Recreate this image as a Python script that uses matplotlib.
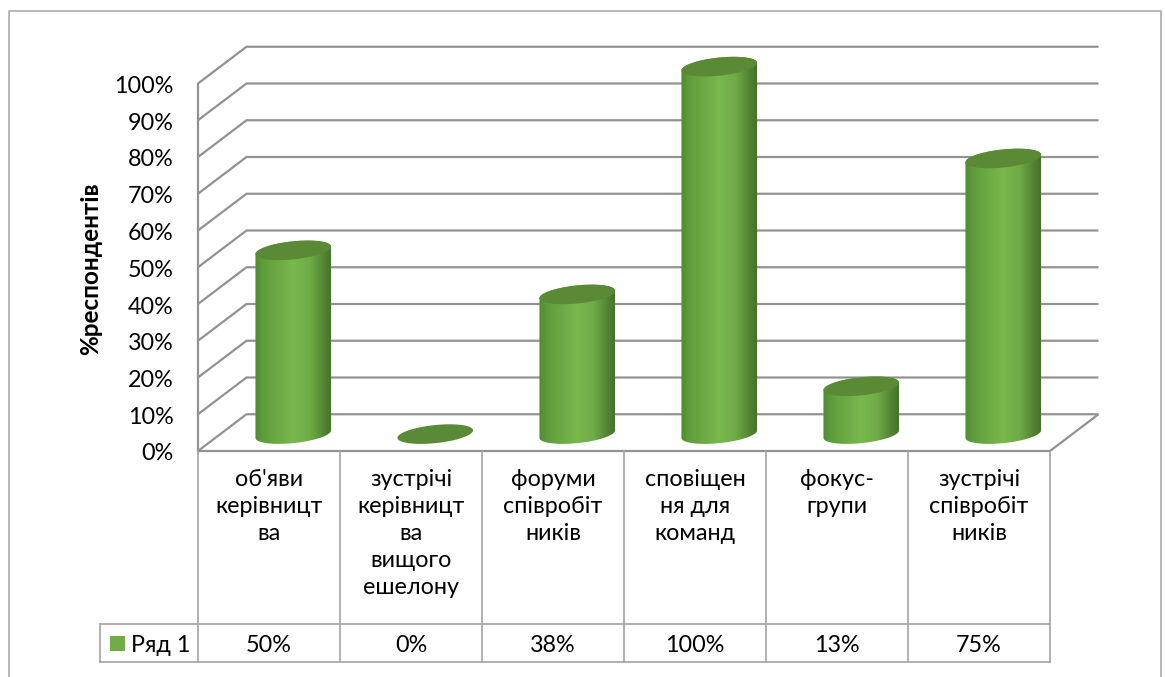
import numpy as np
import matplotlib
matplotlib.use('Agg')
import matplotlib.pyplot as plt
from matplotlib.colors import LinearSegmentedColormap
from matplotlib.patches import Polygon, Rectangle

plt.rcParams['font.family'] = ['Lato', 'Open Sans', 'DejaVu Sans']

categories = ["об'яви\nкерівницт\nва", "зустрічі\nкерівницт\nва\nвищого\nешелону", "форуми\nспівробіт\nників",
              "сповіщен\nня для\nкоманд", "фокус-\nгрупи", "зустрічі\nспівробіт\nників"]
values = [50, 0, 38, 100, 13, 75]
y_ticks = list(range(0, 101, 10))
series_name = 'Ряд 1'

W, H = 1165, 677
fig = plt.figure(figsize=(W / 100, H / 100), dpi=100)
ax = fig.add_axes([198 / W, (H - 451) / H, 852 / W, 367.5 / H])
ax.set_xlim(0, 6)
ax.set_ylim(0, 100)
ax.axis('off')

# pixels per data unit, needed to keep the ellipses round on screen
px_x = 852 / 6
px_y = 367.5 / 100
depth_x = 48.5 / px_x
depth_y = 10
grid_col = '#929292'
line_col = '#a3a3a3'
txt_size = 16.8

# outer frame, open at the bottom
fig.add_artist(plt.Line2D([9 / W, 9 / W, 1161 / W, 1161 / W], [0, 1 - 11 / H, 1 - 11 / H, 0],
                          color='#ababab', lw=1.2))

# walls
for v in y_ticks:
    ax.plot([0, depth_x, 6 + depth_x], [v, v + depth_y, v + depth_y], color=grid_col, lw=1.6,
            clip_on=False, solid_joinstyle='miter', solid_capstyle='butt', zorder=1)
ax.plot([0, 0], [0, 100], color=grid_col, lw=1.6, clip_on=False, zorder=1)
ax.plot([0, 6, 6 + depth_x], [0, 0, depth_y], color=grid_col, lw=1.6, clip_on=False,
        solid_capstyle='butt', zorder=1)


def ellipse_pts(cx, cy, t):
    # tilted ellipse, rising to the right
    a, b, th = 38, 9, np.radians(6)
    dx = a * np.cos(t) * np.cos(th) - b * np.sin(t) * np.sin(th)
    dy = a * np.cos(t) * np.sin(th) + b * np.sin(t) * np.cos(th)
    return np.column_stack([cx + dx / px_x, cy + dy / px_y])


cyl_cmap = LinearSegmentedColormap.from_list('cyl', [(0, '#4f8a30'), (0.1, '#5f9c3b'), (0.5, '#78b84d'),
                                                      (0.72, '#70ab46'), (0.92, '#4f8030'), (1, '#47722b')])
grad = np.linspace(0, 1, 256).reshape(1, -1)
half_w = 38 / px_x

for i, v in enumerate(values):
    cx = i + 0.5 + depth_x / 2
    cy = depth_y / 2 - 0.4
    if v > 0:
        # side of the cylinder: front half of the bottom ellipse, then up to the top
        low = ellipse_pts(cx, cy, np.linspace(np.pi, 2 * np.pi, 60))
        up = ellipse_pts(cx, cy + v, np.linspace(0, np.pi, 60))
        side = Polygon(np.vstack([low, up]), closed=True, transform=ax.transData, fc='none', ec='none')
        ax.add_patch(side)
        im = ax.imshow(grad, extent=[cx - half_w, cx + half_w, cy - 5, cy + v + 5], cmap=cyl_cmap,
                       aspect='auto', zorder=3)
        im.set_clip_box(fig.bbox)
        im.set_clip_path(side)
    top = ellipse_pts(cx, cy + v, np.linspace(0, 2 * np.pi, 120))
    ax.add_patch(Polygon(top, closed=True, fc='#5a8a35', ec='none', zorder=4, clip_on=False))

ax.set_xlim(0, 6)
ax.set_ylim(0, 100)

# axis text
text_shift = -3 / px_y
for v in y_ticks:
    ax.text(-24 / px_x, v + text_shift, f'{v}%', ha='right', va='center', fontsize=txt_size, color='black',
            clip_on=False)
ax.text(-107 / px_x, 49.5, '%респондентів', rotation=90, ha='center', va='center', fontsize=17.5,
        fontweight='bold', color='black')

# data table under the chart
table_mid = -173 / px_y
table_low = -211 / px_y
for k in range(7):
    ax.plot([k, k], [0, table_low], color=line_col, lw=1.2, clip_on=False, zorder=1)
legend_x = -98 / px_x
ax.plot([legend_x, 6], [table_mid, table_mid], color=line_col, lw=1.2, clip_on=False)
ax.plot([legend_x, 6], [table_low, table_low], color=line_col, lw=1.2, clip_on=False)
ax.plot([legend_x, legend_x], [table_mid, table_low], color=line_col, lw=1.2, clip_on=False)

ax.add_patch(Rectangle((-88 / px_x, -200 / px_y), 15 / px_x, 15 / px_y, fc='#71ad47', ec='none', clip_on=False))
mid = (table_mid + table_low) / 2 + text_shift
ax.text(-67 / px_x, mid, series_name, ha='left', va='center', fontsize=txt_size)

for i, (name, v) in enumerate(zip(categories, values)):
    ax.text(i + 0.5, -18.5 / px_y, name, ha='center', va='top', fontsize=txt_size, linespacing=1.35)
    ax.text(i + 0.5, mid, f'{v}%', ha='center', va='center', fontsize=txt_size)

fig.savefig('out.png', dpi=100)
